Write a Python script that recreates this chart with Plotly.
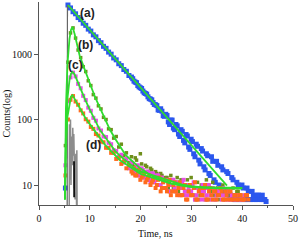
import math
import plotly.graph_objects as go

# ---- data (time in ns, counts) ----
T = [5.2, 5.7, 6.2, 6.7, 7.2, 7.7, 8.2, 8.7, 9.2, 9.7,
     10.2, 10.7, 11.2, 11.7, 12.2, 12.7, 13.2, 13.7, 14.2, 14.7,
     15.2, 15.7, 16.2, 16.7, 17.2, 17.7, 18.2, 18.7, 19.2, 19.7,
     20.2, 20.7, 21.2, 21.7, 22.2, 22.7, 23.2, 23.7, 24.2, 24.7,
     25.2, 25.7, 26.2, 26.7, 27.2, 27.7, 28.2, 28.7, 29.2, 29.7,
     30.2, 30.7, 31.2, 31.7, 32.2, 32.7, 33.2, 33.7, 34.2, 34.7,
     35.2, 35.7, 36.2, 36.7, 37.2, 37.7, 38.2, 38.7, 39.2, 39.7,
     40.2, 40.7, 41.2, 41.7, 42.2, 42.7, 43.2, 43.7, 44.2, 44.7,
     45.2]
T2 = [18.45, 18.95, 19.45, 19.95, 20.45, 20.95, 21.45, 21.95, 22.45, 22.95,
      23.45, 23.95, 24.45, 24.95, 25.45, 25.95, 26.45, 26.95, 27.45, 27.95,
      28.45, 28.95, 29.45, 29.95, 30.45, 30.95, 31.45, 31.95, 32.45, 32.95,
      33.45, 33.95, 34.45, 34.95, 35.45, 35.95, 36.45, 36.95, 37.45, 37.95,
      38.45, 38.95, 39.45, 39.95, 40.45, 40.95, 41.45, 41.95, 42.45, 42.95,
      43.45, 43.95, 44.45, 44.95]
N = None

A = [9, 5600, 5050, 4420, 4110, 3600, 3350, 2950, 2740, 2400,
     2240, 1960, 1830, 1600, 1490, 1310, 1220, 1070, 995, 870,
     815, 710, 665, 580, 545, 470, 445, 385, 365, 315,
     298, 256, 244, 208, 200, 170, 163, 138, 134, 112,
     115, 84, 98, 70, 80, 55, 66, 44, 56, 35,
     46, 27, 39, 21, 33, 17, 28, 14, 23, 11,
     20, 9, 17, 8, 15, 7, 12, 6, 10, 6,
     9, 6, 8, 6, 7, 6, 7, 6, 6, 5.6,
     N]
A2 = [420, 372, 330, 305, 272, 250, 222, 205, 182, 168,
      140, 146, 114, 120, 92, 98, 74, 84, 60, 70,
      48, 59, 38, 50, 30, 42, 24, 36, 19, 30,
      15, 27, 12, 23, 10, 19, 8, 16, 7, 13,
      6, 11, 6, 10, 6, 9, 6, 8, 6, 7,
      6, 7, 6, N]

B = [40, 750, 2100, 2500, 1750, 1150, 880, 640, 540, 390,
     330, 240, 212, 162, 145, 108, 100, 72, 70, 52,
     55, 38, 42, 28, 31, 22, 27, 19, 24, 16,
     21, 14, 19, 12, 17, 11, 15, 10, 14, 9,
     13, 8, 12, 8, 13, 7, 11, 8, 12, 7,
     10, 6, 11, 7, 10, 6, 9, 8, 11, 6,
     9, 7, 10, 6, 8, 7, 9, 6, 8, 7,
     N, N, N, N, N, N, N, N, N, N,
     N]
B2 = [21, 26, 18, 30, 16, 20, 13, 18, 12, 16,
      10, 15, 11, 13, 9, 14, 9, 11, 8, 12,
      7, 10, 8, 13, 7, 9, 6, 10, 8, 12,
      6, 9, 7, 8, 6, 9, 7, 8, 6, 7,
      6, 8, N, N, N, N, N, N, N, N,
      N, N, N, N]

C = [20, 190, 440, 520, 455, 350, 300, 230, 198, 152,
     136, 106, 96, 73, 68, 55, 54, 44, 42, 34,
     33, 27, 29, 22, 25, 18, 22, 16, 19, 14,
     18, 13, 16, 12, 15, 11, 14, 10, 13, 9,
     12, 8, 12, 9, 11, 7, 11, 8, 10, 7,
     10, 6, 9, 8, 10, 6, 9, 7, 9, 6,
     8, 7, 9, 6, 8, 6, 7, 6, 7, 6,
     6, N, N, N, N, N, N, N, N, N,
     N]
C2 = [18, 15, 20, 14, 17, 13, 16, 11, 15, 12,
      14, 10, 12, 9, 11, 10, 12, 8, 10, 9,
      12, 7, 9, 8, 11, 7, 9, 6, 8, 7,
      10, 6, 8, 7, 9, 6, 7, 8, 6, 7,
      6, 7, 6, 6, 7, N, N, N, N, N,
      N, N, N, N]

D = [14, 100, 200, 228, 188, 168, 138, 124, 101, 93,
     77, 72, 60, 57, 46, 45, 37, 37, 31, 31,
     25, 26, 21, 23, 18, 20, 16, 18, 14, 17,
     13, 15, 12, 14, 11, 13, 10, 13, 9, 12,
     8, 12, 8, 11, 7, 11, 7, 10, 6, 10,
     7, 11, 6, 9, 7, 10, 6, 9, 6, 8,
     7, 9, 6, 8, 6, 8, 6, 7, 6, 7,
     6, 7, 6, N, N, N, N, N, N, N,
     N]
D2 = [15, 14, 16, 12, 14, 11, 13, 10, 12, 9,
      12, 8, 11, 9, 10, 7, 10, 8, 9, 7,
      9, 6, 8, 7, 9, 6, 8, 7, 9, 6,
      8, 7, 8, 6, 7, 8, 6, 7, 8, 6,
      7, 6, 7, 6, 6, 7, N, N, N, N,
      N, N, N, N]

# fitted curves
FA_T = [5.7, 37.0]
FA = [5600, 9.8]
F_T = [5.1, 5.3, 5.6, 6.0, 6.3, 6.6, 7.0, 7.5, 8, 9, 10, 11, 12, 13, 14, 15,
       16, 17, 18, 19, 20, 22, 24, 26, 28, 30, 32, 34, 36, 38, 40]
FB = [6, 150, 700, 1700, 2350, 2600, 2040, 1410, 950, 580, 355, 223, 151, 102,
      69, 51, 39, 29, 24.5, 20.7, 17.8, 14.1, 12.0, 10.7, 10.0, 9.5, 9.3, 9.2,
      9.1, 9.0, 9.0]
FC = [6, 60, 210, 400, 500, 535, 490, 394, 317, 208, 142, 99, 69, 54, 42.5, 33,
      27.7, 23.8, 20.4, 17.5, 16.2, 14.4, 12.6, 11.2, 10.2, 9.5, 9.2, 9.0, 8.9,
      8.9, 8.9]
FD = [6, 40, 110, 185, 225, 236, 204, 176, 151, 110, 85, 66, 51.5, 41, 34, 28.4,
      23.7, 21.1, 18.8, 16.8, 14.8, 13.2, 11.7, 10.5, 9.8, 9.3, 9.1, 9.0, 8.9,
      8.9, 8.9]

# instrument response (gray trace + dark segment) and rising edge
IRF_T = [5.95, 6.0, 6.1, 6.2, 6.3, 6.4, 6.55, 6.65, 6.75, 6.85, 6.95, 7.1,
         7.25, 7.4, 7.45, 7.5]
IRF = [4.5, 85, 12, 100, 10, 55, 20, 75, 28, 60, 9, 6, 30, 4.5, 34, 4.5]
IRF_DARK_T = [6.9, 6.92]
IRF_DARK = [23, 6.5]
RISE_T = [5.55, 5.6]
RISE = [4.5, 5600]

LABELS = ["(a)", "(b)", "(c)", "(d)"]
LABEL_T = [9.45, 9.15, 7.1, 10.7]
LABEL_Y = [4200, 1350, 670, 41]

X_TICKS = [0, 10, 20, 30, 40, 50]
Y_TICKS = [10, 100, 1000]

BLUE = "#2b57ee"
OLIVE = "#6f8f1c"
MAGENTA = "#e64ce6"
ORANGE = "#ff6a1c"
GREEN = "#2fdc2f"

fig = go.Figure()

def pts(x, y, color, size):
    fig.add_trace(go.Scatter(x=x, y=y, mode="markers",
                             marker=dict(symbol="square", size=size, color=color,
                                         line=dict(width=0)),
                             cliponaxis=True))

pts(T, A, BLUE, 5)
pts(T2, A2, BLUE, 5)
pts(T, B, OLIVE, 3.5)
pts(T2, B2, OLIVE, 3.5)
pts(T, C, MAGENTA, 4)
pts(T2, C2, MAGENTA, 4)
pts(T, D, ORANGE, 4)
pts(T2, D2, ORANGE, 4)

fig.add_trace(go.Scatter(x=IRF_T, y=IRF, mode="lines",
                         line=dict(color="#8c8c8c", width=1.5)))
fig.add_trace(go.Scatter(x=IRF_DARK_T, y=IRF_DARK, mode="lines",
                         line=dict(color="#111111", width=1.8)))
fig.add_trace(go.Scatter(x=RISE_T, y=RISE, mode="lines",
                         line=dict(color="#666666", width=1.2)))

for fx, fy in [(FA_T, FA), (F_T, FB), (F_T, FC), (F_T, FD)]:
    fig.add_trace(go.Scatter(x=fx, y=fy, mode="lines",
                             line=dict(color=GREEN, width=1.8)))

annotations = []
for lab, lt, ly in zip(LABELS, LABEL_T, LABEL_Y):
    annotations.append(dict(x=lt, y=math.log10(ly), xref="x", yref="y",
                            text="<b>" + lab + "</b>", showarrow=False,
                            font=dict(family="Liberation Sans, Arial", size=12,
                                      color="#222222")))
annotations.append(dict(x=0.46, y=0, xref="paper", yref="paper",
                        yanchor="middle", yshift=-28, text="Time, ns",
                        showarrow=False,
                        font=dict(family="Liberation Serif, Times New Roman",
                                  size=10, color="#111111")))
annotations.append(dict(x=0, y=0.5, xref="paper", yref="paper",
                        xanchor="center", yanchor="middle", xshift=-33,
                        yshift=-10, textangle=-90, text="Counts(log)",
                        showarrow=False,
                        font=dict(family="Liberation Serif, Times New Roman",
                                  size=10, color="#111111")))

axis_font = dict(family="Liberation Serif, Times New Roman", size=10,
                 color="#111111")
fig.update_layout(
    width=300, height=240,
    margin=dict(l=39, r=7, t=2, b=35, autoexpand=False),
    plot_bgcolor="white", paper_bgcolor="white",
    showlegend=False,
    annotations=annotations,
    xaxis=dict(range=[0, 50], tickvals=X_TICKS, ticks="outside", ticklen=4,
               tickcolor="#555555", showline=True, linecolor="#555555",
               linewidth=1, showgrid=False, zeroline=False, automargin=False,
               tickfont=axis_font,
               minor=dict(ticks="outside", ticklen=2, dtick=5,
                          tickcolor="#555555", showgrid=False)),
    yaxis=dict(type="log", range=[0.695, 3.794], tickvals=Y_TICKS,
               ticktext=[str(v) for v in Y_TICKS], ticks="outside", ticklen=4,
               tickcolor="#555555", showline=True, linecolor="#555555",
               linewidth=1, showgrid=False, zeroline=False, automargin=False,
               tickfont=axis_font),
)

fig.write_html("out.html", config={"displayModeBar": False},
               post_script="document.body.style.margin='0';"
                           "document.body.style.overflow='hidden';")
